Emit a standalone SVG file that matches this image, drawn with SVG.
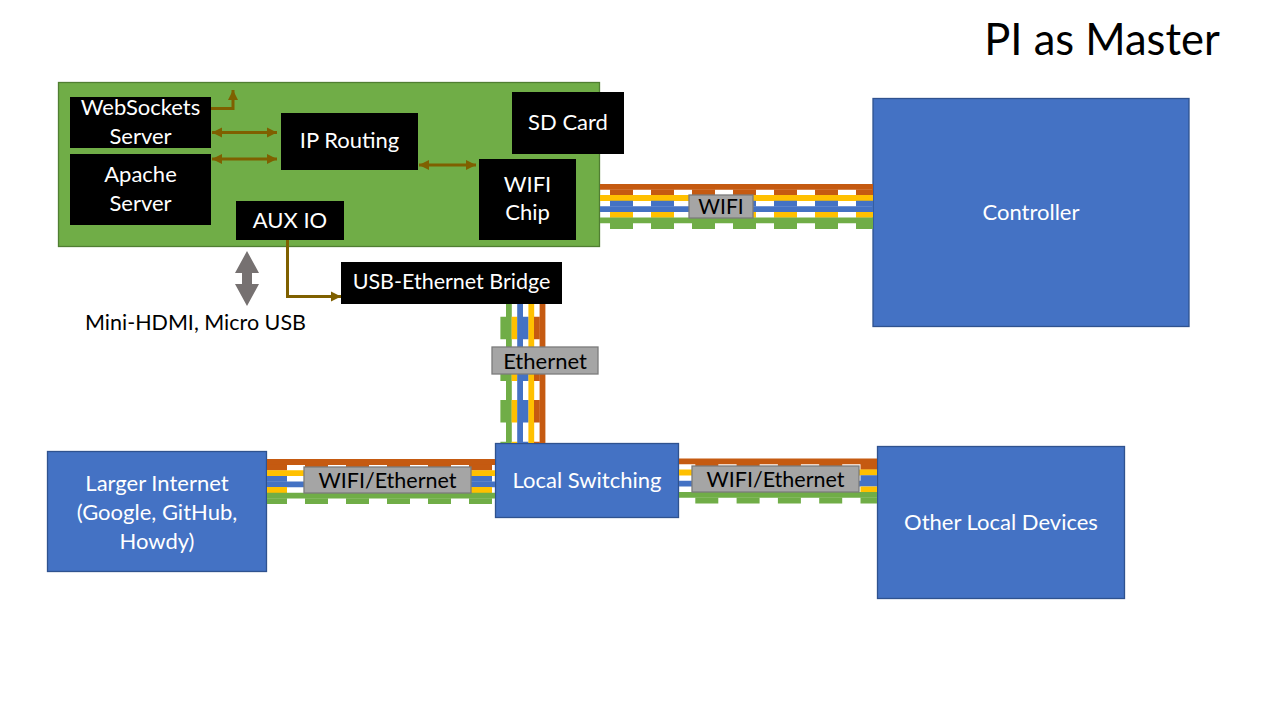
<svg xmlns="http://www.w3.org/2000/svg" width="1280" height="720" viewBox="0 0 1280 720">
<defs>
<style>
text{font-family:Lato,"Open Sans","Liberation Sans",sans-serif;font-size:22px;text-anchor:middle}
.sm{font-size:21.5px}
.wt{fill:#FFFFFF}
.bt{fill:#000000}
.blk{fill:#000000}
.blue{fill:#4472C4;stroke:#2F528F;stroke-width:1.3}
.lbl{fill:#A5A5A5;stroke:#7B7B7B;stroke-width:1.3}
.w{fill:none;stroke-width:5.8}
.or{stroke:#C55A11}
.ye{stroke:#FFC000}
.bl{stroke:#4472C4}
.gr{stroke:#70AD47}
.br{fill:none;stroke:#7F6000;stroke-width:3}
</style>
<marker id="ah" viewBox="0 0 10 10" refX="10" refY="5" markerWidth="10" markerHeight="11" markerUnits="userSpaceOnUse" orient="auto-start-reverse">
<path d="M0,0 L10,5 L0,10 z" fill="#7F6000"/>
</marker>
</defs>
<rect width="1280" height="720" fill="#FFFFFF"/>

<text x="1102" y="55" style="font-size:43.5px" class="bt">PI as Master</text>

<g id="pi-board">
  <rect x="58.5" y="82.5" width="541" height="164" fill="#70AD47" stroke="#507E32" stroke-width="1.3"/>
</g>
<g id="sd-card">
  <rect class="blk" x="512" y="92" width="112" height="62"/>
  <text x="568" y="130" class="wt">SD Card</text>
</g>
<g id="websockets-server">
  <rect class="blk" x="70" y="97" width="141" height="51"/>
  <text x="140.5" y="115" class="wt">WebSockets</text>
  <text x="140.5" y="144" class="wt">Server</text>
</g>
<g id="apache-server">
  <rect class="blk" x="70" y="154" width="141" height="71"/>
  <text x="140.5" y="182" class="wt">Apache</text>
  <text x="140.5" y="211" class="wt">Server</text>
</g>
<g id="ip-routing">
  <rect class="blk" x="281" y="113" width="137" height="57"/>
  <text x="349.5" y="148" class="wt">IP Routing</text>
</g>
<g id="wifi-chip">
  <rect class="blk" x="479" y="159" width="97" height="81"/>
  <text x="527.5" y="192" class="wt">WIFI</text>
  <text x="527.5" y="220" class="wt">Chip</text>
</g>
<g id="aux-io">
  <rect class="blk" x="236" y="201" width="108" height="39"/>
  <text x="290" y="228" class="wt">AUX IO</text>
</g>
<g id="usb-ethernet-bridge">
  <rect class="blk" x="341" y="262" width="221" height="42"/>
  <text x="451.5" y="289" class="wt sm">USB-Ethernet Bridge</text>
</g>
<g id="controller">
  <rect class="blue" x="873" y="98.5" width="316" height="228"/>
  <text x="1031" y="220" class="wt">Controller</text>
</g>
<g id="larger-internet">
  <rect class="blue" x="47.5" y="451.5" width="219" height="120"/>
  <text x="157" y="491" class="wt">Larger Internet</text>
  <text x="157" y="520" class="wt">(Google, GitHub,</text>
  <text x="157" y="549" class="wt">Howdy)</text>
</g>
<g id="local-switching">
  <rect class="blue" x="495.5" y="443.5" width="183" height="74"/>
  <text x="587" y="488" class="wt">Local Switching</text>
</g>
<g id="other-local-devices">
  <rect class="blue" x="877.5" y="446.5" width="247" height="152"/>
  <text x="1001" y="530" class="wt">Other Local Devices</text>
</g>
<g id="external-ports">
  <polygon points="247,251 259,273 252,273 252,284 259,284 247,306 235,284 242,284 242,273 235,273" fill="#767171"/>
  <text x="195.5" y="330" class="bt sm">Mini-HDMI, Micro USB</text>
</g>

<g id="connectors">
  <!-- WIFI cable -->
  <g id="cable-wifi">
    <line class="w or" x1="600" y1="186.8" x2="873" y2="186.8"/>
    <line class="w or" x1="600" y1="192.4" x2="873" y2="192.4" stroke-dasharray="23 18" stroke-dashoffset="31"/>
    <line class="w ye" x1="600" y1="198" x2="873" y2="198"/>
    <line class="w bl" x1="600" y1="203.6" x2="873" y2="203.6" stroke-dasharray="23 18" stroke-dashoffset="31"/>
    <line class="w bl" x1="600" y1="209.2" x2="873" y2="209.2"/>
    <line class="w ye" x1="600" y1="214.8" x2="873" y2="214.8" stroke-dasharray="23 18" stroke-dashoffset="31"/>
    <line class="w gr" x1="600" y1="220.4" x2="873" y2="220.4"/>
    <line class="w gr" x1="600" y1="226" x2="873" y2="226" stroke-dasharray="23 18" stroke-dashoffset="31"/>
    <rect class="lbl" x="689" y="195" width="64" height="23"/>
    <text x="721" y="214" class="bt" style="font-size:21px">WIFI</text>
  </g>
  <!-- Ethernet cable -->
  <g id="cable-ethernet">
    <line class="w gr" x1="503.3" y1="304" x2="503.3" y2="443" stroke-dasharray="22.5 19.2" stroke-dashoffset="29"/>
    <line class="w gr" x1="508.9" y1="304" x2="508.9" y2="443"/>
    <line class="w ye" x1="514.5" y1="304" x2="514.5" y2="443" stroke-dasharray="22.5 19.2" stroke-dashoffset="29"/>
    <line class="w bl" x1="520.1" y1="304" x2="520.1" y2="443"/>
    <line class="w bl" x1="525.7" y1="304" x2="525.7" y2="443" stroke-dasharray="22.5 19.2" stroke-dashoffset="29"/>
    <line class="w ye" x1="531.3" y1="304" x2="531.3" y2="443"/>
    <line class="w or" x1="536.9" y1="304" x2="536.9" y2="443" stroke-dasharray="22.5 19.2" stroke-dashoffset="29"/>
    <line class="w or" x1="542.5" y1="304" x2="542.5" y2="443"/>
    <rect class="lbl" x="492" y="347" width="106" height="27"/>
    <text x="545" y="368.5" class="bt">Ethernet</text>
  </g>
  <!-- Left WIFI/Ethernet cable -->
  <g id="cable-left">
    <line class="w or" x1="267" y1="462" x2="495" y2="462"/>
    <line class="w or" x1="267" y1="467.6" x2="495" y2="467.6" stroke-dasharray="23 18" stroke-dashoffset="3"/>
    <line class="w ye" x1="267" y1="473.2" x2="495" y2="473.2"/>
    <line class="w bl" x1="267" y1="478.8" x2="495" y2="478.8" stroke-dasharray="23 18" stroke-dashoffset="3"/>
    <line class="w bl" x1="267" y1="484.4" x2="495" y2="484.4"/>
    <line class="w ye" x1="267" y1="490" x2="495" y2="490" stroke-dasharray="23 18" stroke-dashoffset="3"/>
    <line class="w gr" x1="267" y1="495.6" x2="495" y2="495.6"/>
    <line class="w gr" x1="267" y1="501.2" x2="495" y2="501.2" stroke-dasharray="23 18" stroke-dashoffset="3"/>
    <rect class="lbl" x="304" y="467" width="167" height="26"/>
    <text x="387.5" y="488" class="bt sm">WIFI/Ethernet</text>
  </g>
  <!-- Right WIFI/Ethernet cable -->
  <g id="cable-right">
    <line class="w or" x1="679" y1="461.3" x2="877" y2="461.3"/>
    <line class="w or" x1="679" y1="466.9" x2="877" y2="466.9" stroke-dasharray="23 18.3" stroke-dashoffset="25"/>
    <line class="w ye" x1="679" y1="472.5" x2="877" y2="472.5"/>
    <line class="w bl" x1="679" y1="478.1" x2="877" y2="478.1" stroke-dasharray="23 18.3" stroke-dashoffset="25"/>
    <line class="w bl" x1="679" y1="483.7" x2="877" y2="483.7"/>
    <line class="w ye" x1="679" y1="489.3" x2="877" y2="489.3" stroke-dasharray="23 18.3" stroke-dashoffset="25"/>
    <line class="w gr" x1="679" y1="494.9" x2="877" y2="494.9"/>
    <line class="w gr" x1="679" y1="500.5" x2="877" y2="500.5" stroke-dasharray="23 18.3" stroke-dashoffset="25"/>
    <rect class="lbl" x="692" y="466" width="167" height="26"/>
    <text x="775.5" y="487" class="bt sm">WIFI/Ethernet</text>
  </g>
  <!-- Board-internal arrows -->
  <path class="br" d="M211,108.5 H233 V90" marker-end="url(#ah)"/>
  <line class="br" x1="212" y1="132.5" x2="277" y2="132.5" marker-start="url(#ah)" marker-end="url(#ah)"/>
  <line class="br" x1="212" y1="159" x2="277" y2="159" marker-start="url(#ah)" marker-end="url(#ah)"/>
  <line class="br" x1="419" y1="165" x2="476" y2="165" marker-start="url(#ah)" marker-end="url(#ah)"/>
  <path class="br" d="M287.5,240 V296.5 H341" marker-end="url(#ah)"/>
</g>
</svg>
